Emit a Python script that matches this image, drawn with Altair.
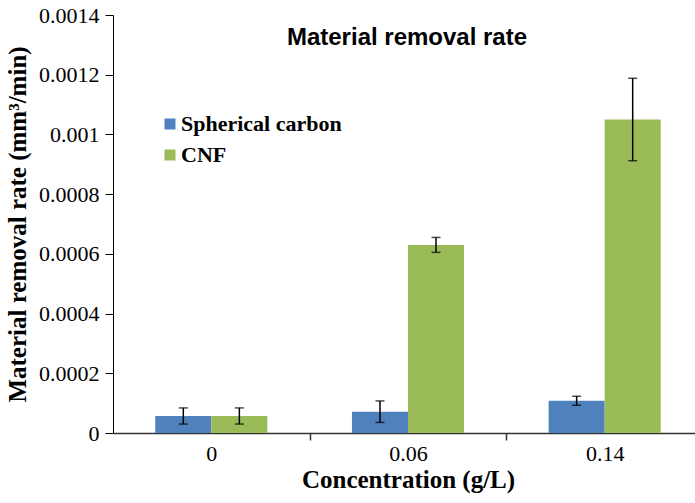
import altair as alt
import pandas as pd

concentrations = ["0", "0.06", "0.14"]
series_names = ["Spherical carbon", "CNF"]
spherical_values = [0.0000570, 0.0000715, 0.000108]
spherical_errors = [0.000027, 0.000036, 0.000015]
cnf_values = [0.0000570, 0.000630, 0.00105]
cnf_errors = [0.000027, 0.000025, 0.000138]
y_ticks = [0, 0.0002, 0.0004, 0.0006, 0.0008, 0.001, 0.0012, 0.0014]
colors = ["#4F81BD", "#9BBB59"]

rows = []
for c, v, e in zip(concentrations, spherical_values, spherical_errors):
    rows.append({"conc": c, "series": series_names[0], "value": v, "err": e})
for c, v, e in zip(concentrations, cnf_values, cnf_errors):
    rows.append({"conc": c, "series": series_names[1], "value": v, "err": e})
df = pd.DataFrame(rows)

SERIF = "Liberation Serif"
STEP = 590 / 3

x_enc = alt.X(
    "conc:N",
    sort=concentrations,
    scale=alt.Scale(range=[0, 590], paddingInner=0.43, paddingOuter=0.215),
    axis=alt.Axis(
        title="Concentration (g/L)",
        labelAngle=0,
        labelPadding=3,
        tickSize=7,
        tickColor="#333333",
        tickWidth=1.5,
        tickOffset=STEP / 2,
        labelOffset=-STEP / 2,
        domainColor="#333333",
        domainWidth=1.5,
        titlePadding=3,
    ),
)
xoff_enc = alt.XOffset("series:N", sort=series_names,
                       scale=alt.Scale(paddingInner=0, paddingOuter=0))
y_scale = alt.Scale(domain=[0, 0.0014], nice=False)
y_axis = alt.Axis(
    values=y_ticks,
    format="~g",
    grid=False,
    labelPadding=6,
    tickSize=8,
    tickColor="black",
    domainColor="black",
    title="Material removal rate (mm³/min)",
    titlePadding=8,
)

base = alt.Chart(df)

bars = base.mark_bar().encode(
    x=x_enc,
    xOffset=xoff_enc,
    y=alt.Y("value:Q", scale=y_scale, axis=y_axis),
    color=alt.Color(
        "series:N",
        scale=alt.Scale(domain=series_names, range=colors),
        legend=alt.Legend(
            title=None,
            orient="none",
            legendX=46,
            legendY=98,
            symbolType="square",
            symbolSize=121,
            symbolStrokeWidth=0,
            labelFont=SERIF,
            labelFontSize=22,
            labelFontWeight="bold",
            labelColor="black",
            labelOffset=0,
            labelLimit=400,
            rowPadding=9,
            padding=0,
        ),
    ),
)

err = base.transform_calculate(
    lo="datum.value - datum.err", hi="datum.value + datum.err"
)

rules = err.mark_rule(color="black", strokeWidth=1.5).encode(
    x=x_enc, xOffset=xoff_enc, y=alt.Y("lo:Q", scale=y_scale, axis=y_axis), y2="hi:Q"
)
caps_lo = err.mark_tick(color="black", thickness=1.5, size=9, orient="horizontal").encode(
    x=x_enc, xOffset=xoff_enc, y=alt.Y("lo:Q", scale=y_scale, axis=y_axis)
)
caps_hi = err.mark_tick(color="black", thickness=1.5, size=9, orient="horizontal").encode(
    x=x_enc, xOffset=xoff_enc, y=alt.Y("hi:Q", scale=y_scale, axis=y_axis)
)

chart = alt.layer(bars, rules, caps_lo, caps_hi).properties(
    width=582,
    height=418,
    title=alt.TitleParams(
        "Material removal rate",
        font="Liberation Sans",
        fontSize=24,
        fontWeight="bold",
        color="black",
        anchor="middle",
        dy=50,
        dx=3,
    ),
    background="white",
    autosize=alt.AutoSizeParams(type="none"),
    padding={"left": 113, "top": 15, "right": 0, "bottom": 70},
).configure_view(
    stroke=None
).configure_axis(
    labelFont=SERIF,
    labelFontSize=22,
    labelColor="black",
    labelFontWeight="normal",
    titleFont=SERIF,
    titleFontSize=25,
    titleFontWeight="bold",
    titleColor="black",
)

chart.save("out.html", embed_options={"renderer": "svg", "actions": False})
